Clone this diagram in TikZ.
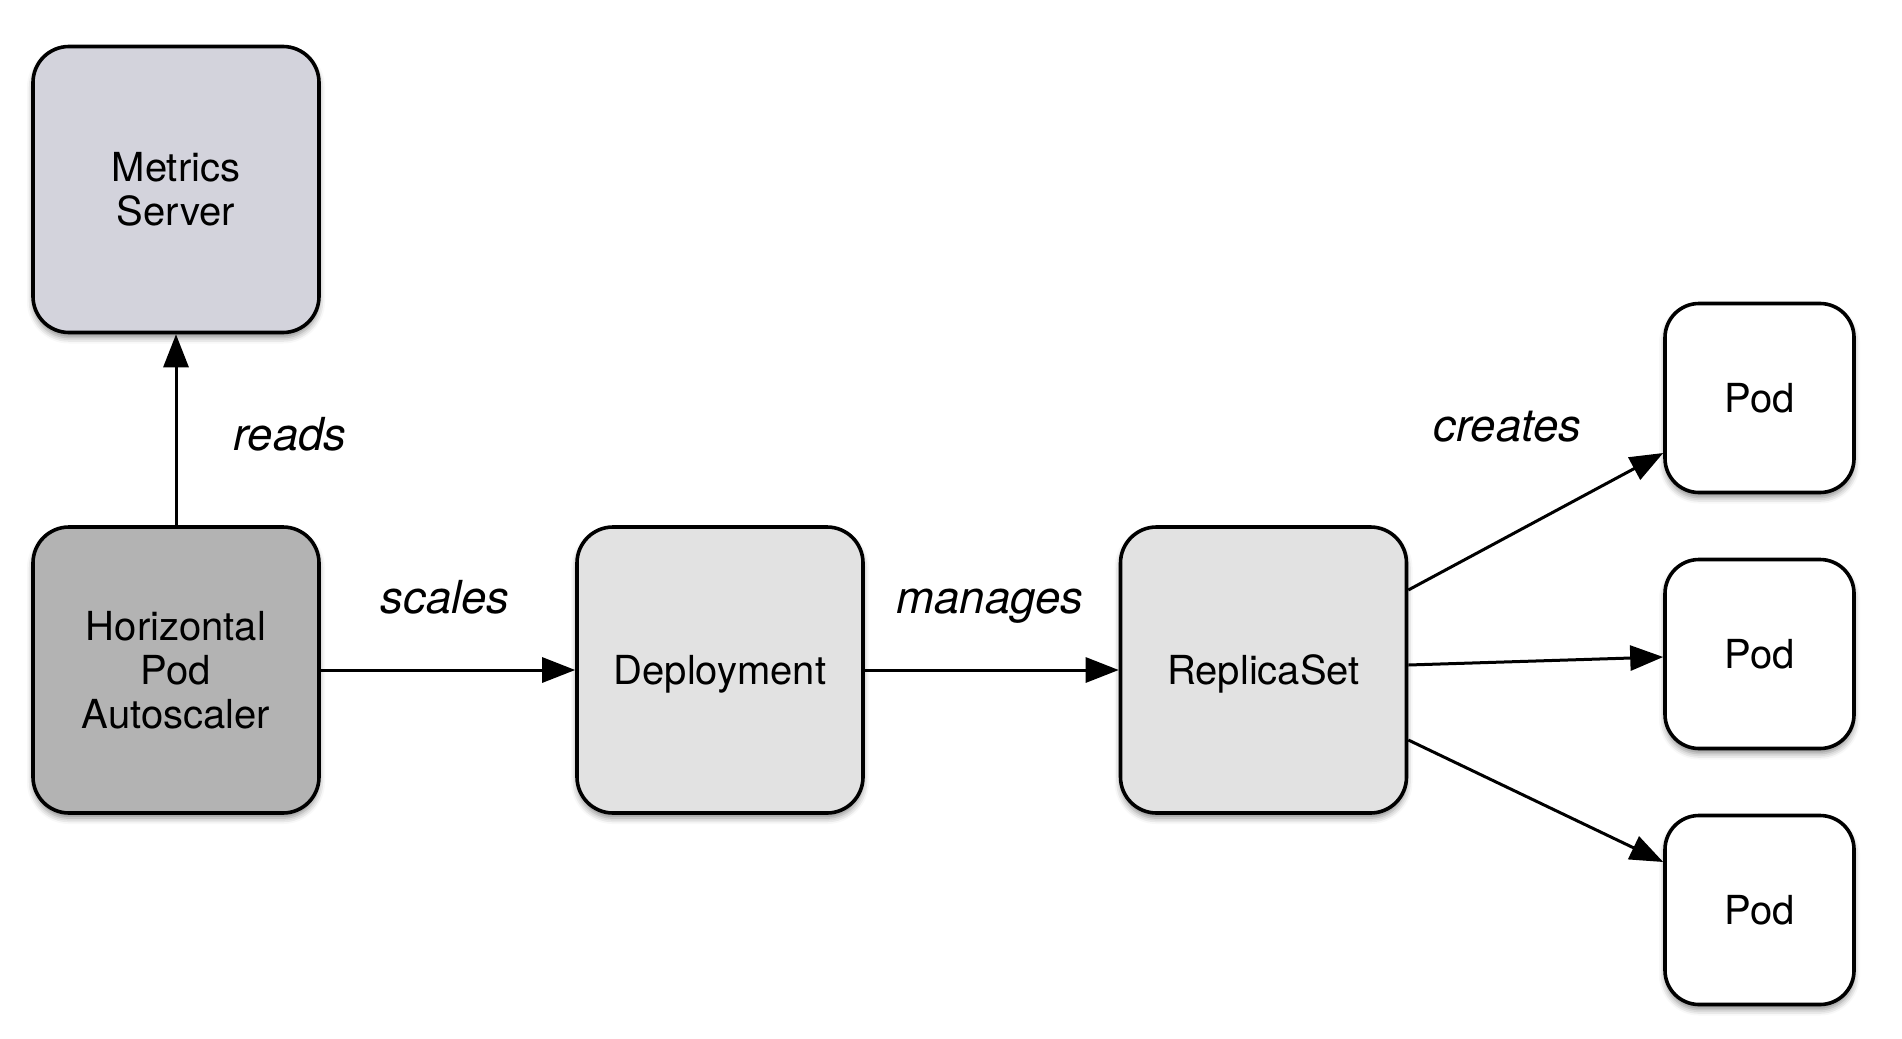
\documentclass[tikz,border=0pt]{standalone}
\usepackage{fontspec}
\setmainfont{TeX Gyre Heros}
\usetikzlibrary{arrows.meta,calc,shadows.blur}
\definecolor{msfill}{HTML}{D3D3DC}
\definecolor{hpafill}{HTML}{B3B3B3}
\definecolor{boxfill}{HTML}{E2E2E2}
\tikzset{
  box/.style={draw=black, line width=3.6pt, rounded corners=36pt, align=center,
    minimum width=286pt, minimum height=286pt, inner sep=0pt,
    font=\fontsize{40}{44}\selectfont,
    blur shadow={shadow xshift=0pt, shadow yshift=-5pt, shadow blur radius=6pt, shadow opacity=45}},
  podbox/.style={box, minimum width=189pt, minimum height=189pt, rounded corners=34pt, fill=white},
  conn/.style={line width=3pt, -{Triangle[length=33pt,width=25pt]}},
  lbl/.style={font=\fontsize{45.5}{48}\selectfont\itshape, anchor=base, inner sep=0pt}
}
\begin{document}
\begin{tikzpicture}[x=1pt,y=-1pt]
\useasboundingbox (0,0) rectangle (1902,1038);
\node[box, fill=msfill] (ms) at (176,189.5) {Metrics\\Server};
\node[box, fill=hpafill] (hpa) at (176,670) {Horizontal\\Pod\\Autoscaler};
\node[box, fill=boxfill, text height=28.8pt, text depth=0pt] (dep) at (720,670) {Deployment};
\node[box, fill=boxfill, text height=28.8pt, text depth=0pt] (rs) at (1263.5,670) {ReplicaSet};
\node[podbox] (p1) at (1759.5,398) {Pod};
\node[podbox] (p2) at (1759.5,654) {Pod};
\node[podbox] (p3) at (1759.5,910) {Pod};

\draw[conn] (hpa.north) -- (ms.south);
\draw[conn] (hpa.east) -- (dep.west);
\draw[conn] (dep.east) -- (rs.west);
\draw[conn] ($(rs.east)+(0,-80)$) -- ($(p1.west)+(0,55)$);
\draw[conn] ($(rs.east)+(0,-5)$) -- ($(p2.west)+(0,3)$);
\draw[conn] ($(rs.east)+(0,70)$) -- ($(p3.west)+(0,-48)$);

\node[lbl] (lreads) at (290,450) {reads};
\node[lbl] (lscales) at (445,613) {scales};
\node[lbl] (lmanages) at (990,613) {manages};
\node[lbl] (lcreates) at (1507.5,441) {creates};
\end{tikzpicture}
\end{document}
